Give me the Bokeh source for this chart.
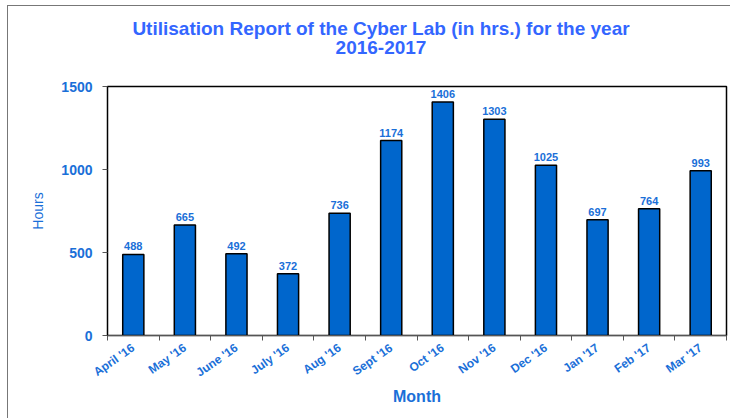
from bokeh.plotting import figure
from bokeh.layouts import column
from bokeh.models import ColumnDataSource, FixedTicker, LabelSet, Range1d, Label
from bokeh.core.properties import value
from bokeh.embed import file_html
from bokeh.resources import INLINE

months = ["April '16", "May '16", "June '16", "July '16", "Aug '16", "Sept '16",
          "Oct '16", "Nov '16", "Dec '16", "Jan '17", "Feb '17", "Mar '17"]
hours = [488, 665, 492, 372, 736, 1174, 1406, 1303, 1025, 697, 764, 993]
y_ticks = [0, 500, 1000, 1500]
title_lines = ["Utilisation Report of the Cyber Lab (in hrs.) for the year", "2016-2017"]

TITLE_C = "#3366FF"
TEXT_C = "#1A6FD8"
BAR_C = "#0066CC"
FONT = "Liberation Sans"
W = 722
TH = 70          # height of the title strip
MH = 342         # height of the chart
BL, BT, BB, BR = 99, 10, 83, 4

# ---- title strip (pixel coordinates, y downward) ----
tf = figure(width=W, height=TH, output_backend="svg", toolbar_location=None,
            x_range=Range1d(0, W), y_range=Range1d(TH, 0),
            x_axis_type=None, y_axis_type=None,
            min_border_left=0, min_border_right=0, min_border_top=0, min_border_bottom=0)
tf.title.visible = False
tf.outline_line_color = None
tf.xgrid.visible = False
tf.ygrid.visible = False
tf.border_fill_color = "white"
for i, line in enumerate(title_lines):
    tf.add_layout(Label(x=319, y=22 + 19 * i, text=line, text_align="center",
                        text_baseline="middle", text_color=TITLE_C, text_font=FONT,
                        text_font_size="19px", text_font_style="bold"))

# ---- chart ----
xs = [i + 0.5 for i in range(len(months))]
src = ColumnDataSource(dict(x=xs, top=hours, lab=[str(h) for h in hours]))

p = figure(width=W, height=MH, output_backend="svg", toolbar_location=None,
           x_range=Range1d(0, len(months)), y_range=Range1d(0, 1500),
           min_border_left=BL, min_border_right=BR, min_border_top=BT, min_border_bottom=BB)
p.title.visible = False

p.vbar(x="x", top="top", width=0.41, bottom=0, source=src,
       fill_color=BAR_C, line_color="black", line_width=1.5)

labels = LabelSet(x="x", y="top", text="lab", source=src, text_align="center",
                  text_baseline="bottom", y_offset=4, text_color=TEXT_C,
                  text_font=value(FONT), text_font_size=value("11px"),
                  text_font_style="bold")
p.add_layout(labels)

p.xgrid.visible = False
p.ygrid.visible = False
p.outline_line_color = "black"
p.outline_line_width = 1.5
p.background_fill_color = "white"
p.border_fill_color = "white"

xa = p.xaxis[0]
xa.ticker = FixedTicker(ticks=xs, minor_ticks=list(range(len(months) + 1)))
xa.major_label_overrides = {x: m for x, m in zip(xs, months)}
xa.major_label_orientation = 0.61
xa.major_tick_line_color = None
xa.minor_tick_in = 0
xa.minor_tick_out = 5
xa.minor_tick_line_color = "#555555"
xa.axis_line_color = "#555555"
xa.major_label_text_color = TEXT_C
xa.major_label_text_font = FONT
xa.major_label_text_font_size = "12px"
xa.major_label_text_font_style = "bold"
xa.major_label_standoff = 5
xa.axis_label = "Month"
xa.axis_label_text_color = TEXT_C
xa.axis_label_text_font = FONT
xa.axis_label_text_font_size = "16px"
xa.axis_label_text_font_style = "bold"
xa.axis_label_standoff = 0

ya = p.yaxis[0]
ya.ticker = FixedTicker(ticks=y_ticks)
ya.minor_tick_line_color = None
ya.major_tick_in = 0
ya.major_tick_out = 5
ya.major_tick_line_color = "#555555"
ya.axis_line_color = "black"
ya.major_label_text_color = TEXT_C
ya.major_label_text_font = FONT
ya.major_label_text_font_size = "14px"
ya.major_label_text_font_style = "bold"
ya.major_label_standoff = 10
ya.axis_label = "Hours"
ya.axis_label_text_color = TEXT_C
ya.axis_label_text_font = FONT
ya.axis_label_text_font_size = "14px"
ya.axis_label_text_font_style = "normal"
ya.axis_label_standoff = 12

layout = column(tf, p, spacing=0)
layout.styles = {"margin-left": "7px", "margin-top": "5px",
                 "border-top": "1px solid #777777", "border-left": "1px solid #777777",
                 "background-color": "white"}

open("out.html", "w").write(file_html(layout, INLINE))
